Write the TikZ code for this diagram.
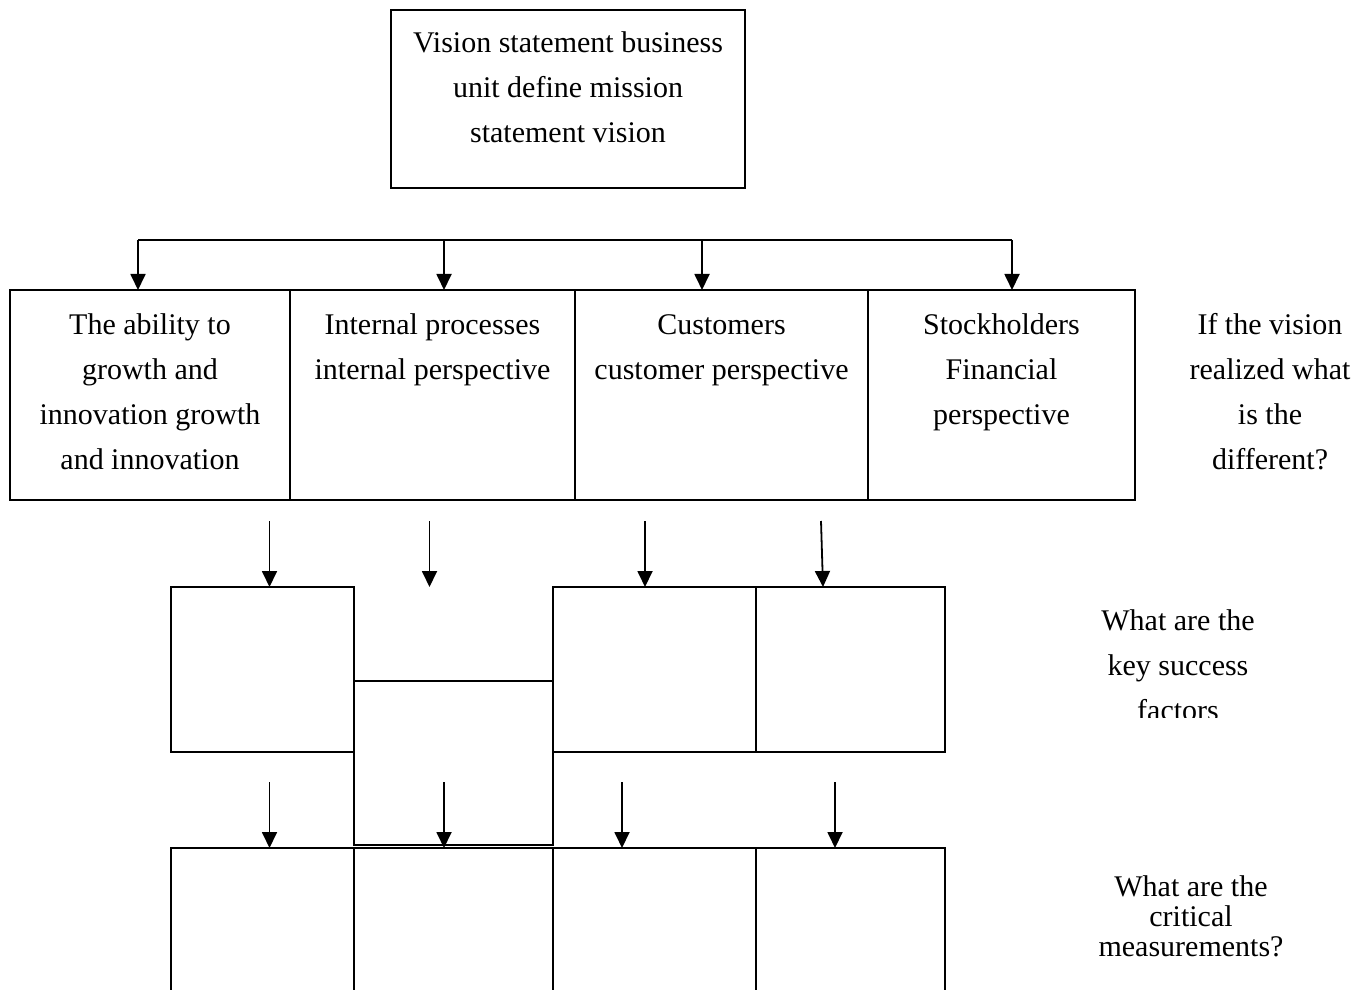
\documentclass[tikz,border=0pt]{standalone}
\usepackage{fontspec}
\setmainfont{Liberation Serif}
\usetikzlibrary{positioning,arrows.meta,calc}
\newcommand{\bodyfont}{\fontsize{15}{22.5}\selectfont}
\newcommand{\tightfont}{\fontsize{15}{15}\selectfont}

\begin{document}
\begin{tikzpicture}[x=0.5pt,y=-0.5pt,
    box/.style={draw,line width=1pt,inner sep=0pt,outer sep=0pt},
    caption/.style={align=center,font=\bodyfont,inner sep=0pt,anchor=base},
    arr/.style={line width=0.9pt,-{Triangle[length=8pt,width=7.5pt]}}]
  \useasboundingbox (0,0) rectangle (1368,989);
  % vision on top (captions sit on the baseline of their last line)
  \node[box,minimum width=177pt,minimum height=89pt] (vis) at (568,99) {};
  \node[caption] (visT) at (568,143) {Vision statement business\\unit define mission\\statement vision};
  % the four perspectives
  \node[box,minimum width=140pt,minimum height=105pt] (grow) at (150,395) {};
  \node[box,minimum width=142.5pt,minimum height=105pt] (intl) at (432.5,395) {};
  \node[box,minimum width=146.5pt,minimum height=105pt] (cust) at (721.5,395) {};
  \node[box,minimum width=133.5pt,minimum height=105pt] (fin) at (1001.5,395) {};
  \node[caption] (growT) at (150,469) {The ability to\\growth and\\innovation growth\\and innovation};
  \node[caption] (intlT) at (432.5,379) {Internal processes\\internal perspective};
  \node[caption] (custT) at (721.5,379) {Customers\\customer perspective};
  \node[caption] (finT) at (1001.5,424) {Stockholders\\Financial\\perspective};
  % key success factors (empty)
  \node[box,minimum width=91.5pt,minimum height=82.5pt] (ksfA) at (262.5,669.5) {};
  \node[box,minimum width=99.5pt,minimum height=82pt] (ksfB) at (453.5,763) {};
  \node[box,minimum width=101.5pt,minimum height=82.5pt] (ksfC) at (654.5,669.5) {};
  \node[box,minimum width=94.5pt,minimum height=82.5pt] (ksfD) at (850.5,669.5) {};
  % critical measurements, cut off by the page
  \node[box,minimum width=91.5pt,minimum height=81pt] (measA) at (262.5,929) {};
  \node[box,minimum width=99.5pt,minimum height=81pt] (measB) at (453.5,929) {};
  \node[box,minimum width=101.5pt,minimum height=81pt] (measC) at (654.5,929) {};
  \node[box,minimum width=94.5pt,minimum height=81pt] (measD) at (850.5,929) {};
  % bus from the vision
  \coordinate (tapA) at (138,240);  \coordinate (tapB) at (444,240);
  \coordinate (tapC) at (702,240);  \coordinate (tapD) at (1012,240);
  \draw[line width=0.9pt] (tapA) -- (tapD);
  \foreach \t/\b in {tapA/grow,tapB/intl,tapC/cust,tapD/fin}
      \draw[arr] (\t) -- (\t |- \b.north);
  % down to the factors
  \coordinate (srcA) at (269.5,521);  \coordinate (srcB) at (429.5,521);
  \coordinate (srcC) at (645,521);    \coordinate (srcD) at (821,521);
  \draw[arr] (srcA) -- (srcA |- ksfA.north);
  \draw[arr] (srcB) -- (srcB |- ksfA.north);
  \draw[arr] (srcC) -- (srcC |- ksfC.north);
  \draw[arr] (srcD) -- ($(srcD |- ksfD.north)+(2,0)$);
  % down to the measurements
  \coordinate (dnA) at (269.5,782);  \coordinate (dnB) at (444,782);
  \coordinate (dnC) at (622,782);    \coordinate (dnD) at (835,782);
  \foreach \t/\b in {dnA/measA,dnB/measB,dnC/measC,dnD/measD}
      \draw[arr] (\t) -- (\t |- \b.north);
  % questions on the right
  \node[caption] (askVision) at (1270,469) {If the vision\\realized what\\is the\\different?};
  \begin{scope}
    \clip (1050,590) rectangle (1320,717);
    \node[caption] (askKsf) at (1178,720) {What are the\\key success\\factors};
  \end{scope}
  \node[caption,font=\tightfont] (askMeas) at (1191,956) {What are the\\critical\\measurements?};
\end{tikzpicture}
\end{document}
